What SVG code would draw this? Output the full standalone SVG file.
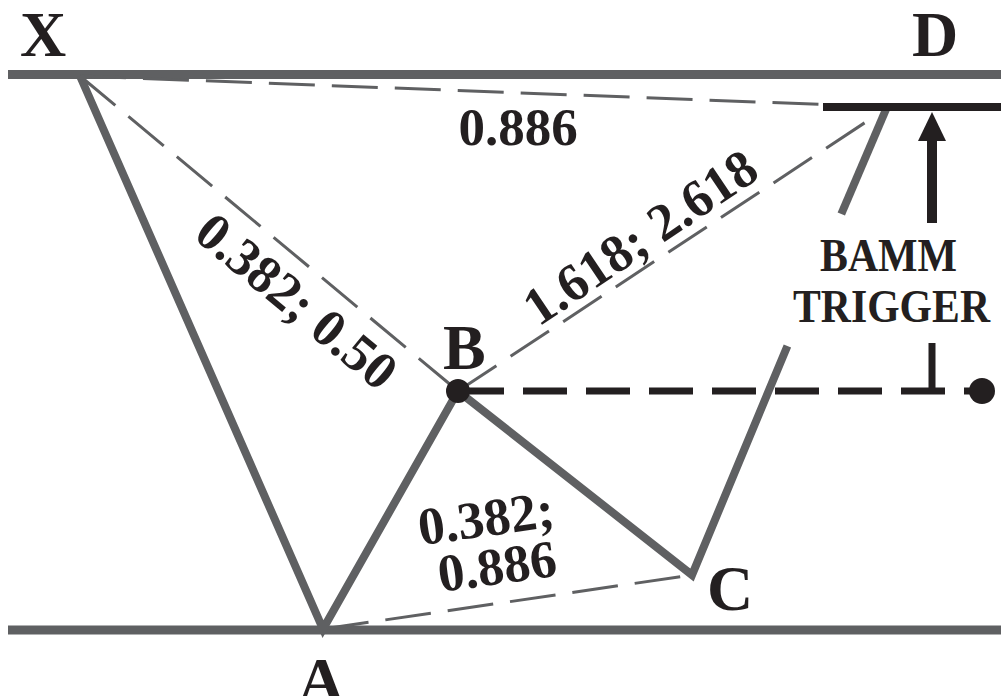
<svg xmlns="http://www.w3.org/2000/svg" width="1001" height="696" viewBox="0 0 1001 696">
<style>
.rail{stroke:#5f6062;stroke-width:9;fill:none}
.leg{stroke:#5f6062;stroke-width:8;fill:none;stroke-linejoin:miter}
.ratio{stroke:#5f6062;stroke-width:3;fill:none;stroke-dasharray:46 17}
.trig{stroke:#231f20;stroke-width:7;fill:none}
.pt{font-family:"Liberation Serif","Times New Roman",serif;font-weight:bold;font-size:64px;fill:#231f20}
.lbl{font-family:"Liberation Serif","Times New Roman",serif;font-weight:bold;font-size:53px;fill:#231f20}
.bamm{font-family:"Liberation Serif","Times New Roman",serif;font-weight:bold;font-size:46px;fill:#231f20}
</style>
<rect width="1001" height="696" fill="#ffffff"/>
<g id="rails">
<line class="rail" x1="8" y1="74.5" x2="1001" y2="74.5"/>
<line class="rail" x1="8" y1="630" x2="1001" y2="630"/>
</g>
<g id="connectors">
<line class="ratio" x1="80" y1="76" x2="887" y2="107"/>
<line class="ratio" x1="80" y1="76" x2="458" y2="391"/>
<line class="ratio" x1="458" y1="391" x2="878" y2="114"/>
<line class="ratio" x1="323" y1="629" x2="692" y2="575"/>
<polyline class="leg" points="80,76 323,629 458,391 692,575 787.4,346"/>
<line class="leg" x1="841.3" y1="214" x2="887" y2="107"/>
<line class="trig" x1="460" y1="391" x2="982" y2="391" style="stroke-dasharray:44 19"/>
<line class="trig" x1="932" y1="343" x2="932" y2="391"/>
<line stroke="#231f20" stroke-width="8" x1="823" y1="107" x2="1001" y2="107"/>
<rect x="927" y="138" width="10" height="85" fill="#231f20"/>
<polygon points="932,112 918,141 946,141" fill="#231f20"/>
</g>
<g id="node-X"><text class="pt" x="20" y="56">X</text></g>
<g id="node-D"><text class="pt" x="912" y="56">D</text></g>
<g id="node-A"><text class="pt" x="298" y="702">A</text></g>
<g id="node-B"><circle cx="458" cy="391" r="12" fill="#231f20"/><text class="pt" x="443" y="369">B</text></g>
<g id="node-C"><text class="pt" x="707" y="610">C</text></g>
<g id="node-trigger-dot"><circle cx="982" cy="391" r="13" fill="#231f20"/></g>
<g id="labels">
<text class="lbl" x="518" y="145" text-anchor="middle">0.886</text>
<text class="lbl" text-anchor="middle" transform="translate(297,301) rotate(39.7)" y="18">0.382; 0.50</text>
<text class="lbl" text-anchor="middle" transform="translate(640,237) rotate(-34)" y="18">1.618; 2.618</text>
<text class="lbl" text-anchor="middle" transform="translate(486,518) rotate(-8)" y="18">0.382;</text>
<text class="lbl" text-anchor="middle" transform="translate(497,566) rotate(-8)" y="18">0.886</text>
<text class="bamm" x="820" y="271" textLength="137" lengthAdjust="spacingAndGlyphs">BAMM</text>
<text class="bamm" x="793" y="322" textLength="197" lengthAdjust="spacingAndGlyphs">TRIGGER</text>
</g>
</svg>
